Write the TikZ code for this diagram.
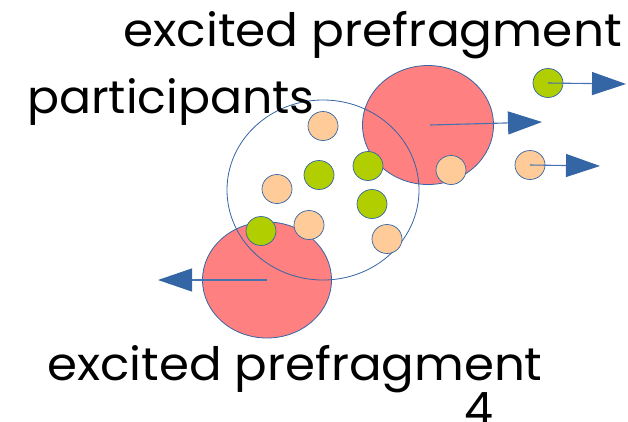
\documentclass[tikz,border=0pt]{standalone}
\usepackage{fontspec}
\setmainfont{Poppins}
\usetikzlibrary{arrows.meta,shapes.geometric}
\definecolor{fragred}{RGB}{255,128,128}
\definecolor{partorange}{RGB}{255,204,153}
\definecolor{partgreen}{RGB}{176,206,0}
\definecolor{edgeblue}{RGB}{52,101,164}
\definecolor{lineblue}{RGB}{70,115,175}
\tikzset{
  frag/.style={ellipse,draw=edgeblue,fill=fragred,line width=0.8pt,inner sep=0pt},
  zone/.style={ellipse,draw=edgeblue,line width=0.8pt,inner sep=0pt,minimum width=192pt,minimum height=180pt},
  orangeball/.style={ellipse,draw=edgeblue,fill=partorange,line width=0.7pt,inner sep=0pt,minimum width=30pt,minimum height=29pt},
  greenball/.style={ellipse,draw=edgeblue,fill=partgreen,line width=0.7pt,inner sep=0pt,minimum width=30pt,minimum height=29pt},
  fly/.style={draw=lineblue,line width=1.1pt,-{Triangle[length=34pt,width=23pt,fill=edgeblue,color=edgeblue]}},
  label/.style={inner sep=0pt,anchor=base west,font=\fontsize{46}{50}\selectfont}
}
\begin{document}
\begin{tikzpicture}[x=1pt,y=-1pt]
\useasboundingbox (0,0) rectangle (628,421);
% fragments
\node[frag,minimum width=131pt,minimum height=119pt] (topfrag) at (428,125) {};
\node[frag,minimum width=129pt,minimum height=116pt] (botfrag) at (267,280) {};
% participant zone
\node[zone] (zone) at (323,190) {};
% particles
\node[orangeball] (o1) at (323,126) {};
\node[greenball] (g1) at (319,175) {};
\node[greenball] (g2) at (368,166) {};
\node[orangeball] (o2) at (277,189) {};
\node[greenball] (g3) at (372,204) {};
\node[greenball] (g4) at (261,231) {};
\node[orangeball] (o3) at (309,225) {};
\node[orangeball] (o4) at (387,239) {};
\node[orangeball] (o5) at (451,170) {};
\node[greenball] (g5) at (548,83) {};
\node[orangeball] (o6) at (530,165) {};
% arrow tips
\coordinate (tipg5) at (626,84);
\coordinate (tiptop) at (542,122);
\coordinate (tipo6) at (600,166);
\coordinate (tipbot) at (158,280);
\draw[fly] (g5.center) -- (tipg5);
\draw[fly] (430,125) -- (tiptop);
\draw[fly] (o6.center) -- (tipo6);
\draw[fly] (botfrag.center) -- (tipbot);
% labels
\node[label] (t1) at (123,46) {\scalebox{1.057}[1]{excited prefragment}};
\node[label] (t2) at (27,113) {\scalebox{1.03}[1]{participants}};
\node[label] (t3) at (47,380) {\scalebox{1.05}[1]{excited prefragment}};
\node[label] (t4) at (464,425) {4};
\end{tikzpicture}
\end{document}
